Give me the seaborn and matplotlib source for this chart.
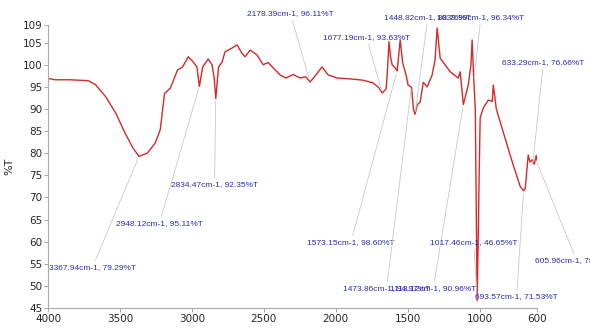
import matplotlib
matplotlib.use("Agg")
import matplotlib.pyplot as plt
import seaborn as sns
import pandas as pd

# FTIR spectrum
wavenumber = [4000, 3950, 3850, 3720, 3670, 3600, 3530, 3465, 3410, 3368, 3310, 3255, 3220, 3190,
              3150, 3100, 3065, 3025, 2990, 2965, 2948, 2925, 2887, 2860, 2845, 2834, 2815, 2790,
              2770, 2720, 2686, 2650, 2630, 2595, 2547, 2505, 2470, 2435, 2387, 2345, 2296, 2248,
              2210, 2178, 2143, 2095, 2053, 1990, 1900, 1810, 1740, 1700, 1677, 1650, 1640, 1630,
              1620, 1608, 1590, 1573, 1560, 1552, 1535, 1510, 1497, 1473, 1460, 1449, 1434, 1413,
              1392, 1364, 1330, 1310, 1295, 1274, 1204, 1149, 1135, 1125, 1113, 1079, 1060, 1052,
              1040, 1030, 1024, 1017, 1010, 1003, 996, 975, 940, 912, 905, 895, 884, 836, 766,
              718, 694, 683, 662, 650, 634, 620, 606, 600]
transmittance = [96.9, 96.6, 96.6, 96.4, 95.5, 92.8, 89.1, 84.6, 81.2, 79.3, 80.0, 82.3, 85.3, 93.5,
                 94.7, 98.8, 99.5, 101.8, 100.6, 99.5, 95.1, 99.5, 101.3, 100.0, 97.0, 92.35, 99.5, 100.6,
                 102.9, 103.8, 104.5, 102.5, 101.8, 103.3, 102.2, 100.0, 100.5, 99.3, 97.7, 97.0, 97.8, 97.0,
                 97.3, 96.1, 97.5, 99.5, 97.7, 97.0, 96.8, 96.5, 95.9, 94.8, 93.63, 94.5, 99.0, 105.2,
                 102.0, 100.0, 99.4, 98.6, 103.0, 105.6, 100.5, 97.5, 95.4, 94.9, 90.0, 88.8, 90.9, 91.6,
                 96.0, 95.0, 97.7, 101.0, 108.3, 101.5, 98.4, 97.0, 98.4, 95.0, 91.0, 95.4, 100.0, 105.6,
                 96.34, 90.0, 70.0, 46.65, 60.0, 75.0, 88.0, 90.2, 92.0, 91.7, 95.4, 93.0, 90.0, 84.8, 77.3,
                 72.5, 71.5, 72.0, 79.6, 78.0, 78.5, 77.5, 79.5, 78.3]

# peak picks
peak_wn = [3367.94, 2948.12, 2834.47, 2178.39, 1677.19, 1573.15, 1473.86, 1448.82,
           1113.12, 1039.99, 1017.46, 693.57, 633.29, 605.96]
peak_t = [79.29, 95.11, 92.35, 96.11, 93.63, 98.60, 94.97, 88.76,
          90.96, 96.34, 46.65, 71.53, 76.66, 78.27]
peak_labels = [f"{w:.2f}cm-1, {t:.2f}%T" for w, t in zip(peak_wn, peak_t)]

# where each label sits (wavenumber, %T)
label_pos = [(3993, 54.2), (3527, 64.2), (3145, 72.8), (2616, 111.5), (2088, 106.1),
             (2199, 59.9), (1949, 49.5), (1663, 110.6), (1622, 49.5), (1295, 110.6),
             (1344, 59.7), (1031, 47.5), (843, 100.6), (613, 55.8)]

df = pd.DataFrame({"wn": wavenumber, "T": transmittance})

sns.set_style("ticks")
fig = plt.figure(figsize=(5.9, 3.28), dpi=100)
ax = fig.add_axes([0.0814, 0.061, 0.829, 0.863])

sns.lineplot(data=df, x="wn", y="T", sort=False, color="#d42a2a", lw=1.0, ax=ax)

for lab, w, t, pos in zip(peak_labels, peak_wn, peak_t, label_pos):
    ax.annotate(lab, xy=(w, t), xytext=pos, ha="left", va="center",
                fontsize=6, color="#2b2bb5", family="Liberation Sans",
                annotation_clip=False,
                arrowprops=dict(arrowstyle="-", color="#c8c8c8", lw=0.6,
                                shrinkA=0, shrinkB=2))

ax.set_xlim(4000, 600)
ax.set_ylim(45, 109)
ax.set_xticks([4000, 3500, 3000, 2500, 2000, 1500, 1000, 600])
ax.set_yticks([45, 50, 55, 60, 65, 70, 75, 80, 85, 90, 95, 100, 105, 109])
ax.set_xlabel("")
ax.set_ylabel("%T", fontsize=8, labelpad=6)
ax.tick_params(labelsize=7.5, length=3, width=0.6, color="#999999", pad=1)
sns.despine(ax=ax)
for s in ["left", "bottom"]:
    ax.spines[s].set_color("#aaaaaa")
    ax.spines[s].set_linewidth(0.8)

fig.savefig("out.png", dpi=100)
